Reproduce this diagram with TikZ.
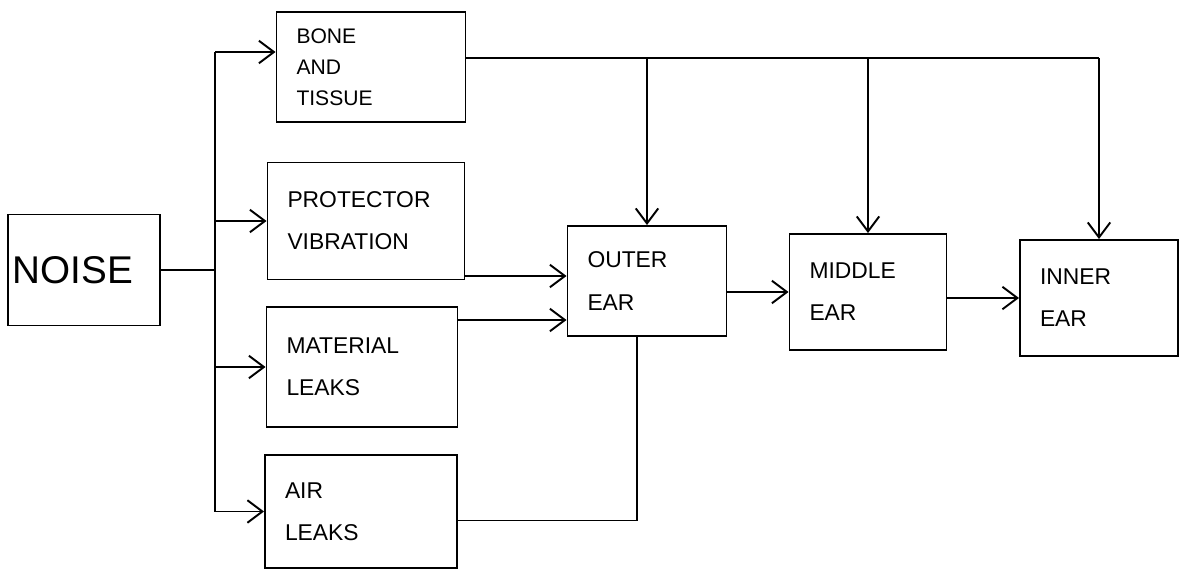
\documentclass[tikz,border=0pt]{standalone}
\usepackage{fontspec}
\setsansfont{Liberation Sans}
\usetikzlibrary{arrows.meta,positioning,calc}
\tikzset{box/.style={draw=black,line width=1.1pt,align=left,inner xsep=4mm,font=\sffamily\fontsize{13}{24}\selectfont},arrow/.style={-{Straight Barb[length=3mm,width=4.5mm]},line width=1.1pt},wire/.style={line width=1.1pt}}

\begin{document}
\begin{tikzpicture}
\useasboundingbox (0,0) rectangle (23.72,-11.42);
\node[box,inner xsep=1mm,text width=28.4mm,minimum height=22.2mm,font=\sffamily\fontsize{22}{26}\selectfont] (noise) at (1.68,-5.40) {NOISE};
\node[box,text width=29.8mm,minimum height=22mm,font=\sffamily\fontsize{12}{17.5}\selectfont] (bone) at (7.42,-1.34) {BONE\\AND\\TISSUE};
\node[box,text width=31.4mm,minimum height=23.4mm] (prot) at (7.32,-4.42) {PROTECTOR\\VIBRATION};
\node[box,text width=30.2mm,minimum height=24mm] (mat) at (7.24,-7.34) {MATERIAL\\LEAKS};
\node[box,text width=30.4mm,minimum height=22.6mm] (air) at (7.22,-10.23) {AIR\\LEAKS};
\node[box,text width=23.8mm,minimum height=22mm] (outer) at (12.94,-5.62) {OUTER\\EAR};
\node[box,text width=23.4mm,minimum height=23.2mm] (middle) at (17.36,-5.84) {MIDDLE\\EAR};
\node[box,text width=23.6mm,minimum height=23.2mm] (inner) at (21.98,-5.96) {INNER\\EAR};
% noise feeds the four paths
\coordinate (bus) at (4.3,0);
\coordinate (b1) at ([yshift=3mm]bone.west);
\draw[wire] (noise.east) -- (noise.east -| bus);
\draw[wire] (b1 -| bus) -- (air.west -| bus);
\draw[arrow] (b1 -| bus) -- (b1);
\foreach \n in {prot,mat,air}{\draw[arrow] (\n.west -| bus) -- (\n.west);}
% bone and tissue to every part of the ear
\coordinate (b2) at ([yshift=1.8mm]bone.east);
\draw[wire] (b2) -- (b2 -| inner.north);
\foreach \n in {outer,middle,inner}{\draw[arrow] (b2 -| \n.north) -- (\n.north);}
% into the outer ear
\coordinate (o1) at ([yshift=1mm]outer.west);
\coordinate (o2) at ([yshift=-7.8mm]outer.west);
\draw[arrow] (o1 -| prot.east) -- (o1);
\draw[arrow] (o2 -| mat.east) -- (o2);
\coordinate (a1) at ([xshift=-2mm]outer.south);
\coordinate (a2) at ([yshift=-1.8mm]air.east);
\draw[wire] (a2) -- (a2 -| a1) -- (a1);
% along the ear
\draw[arrow] (outer.east |- middle.west) -- (middle.west);
\draw[arrow] (middle.east |- inner.west) -- (inner.west);
\end{tikzpicture}
\end{document}
